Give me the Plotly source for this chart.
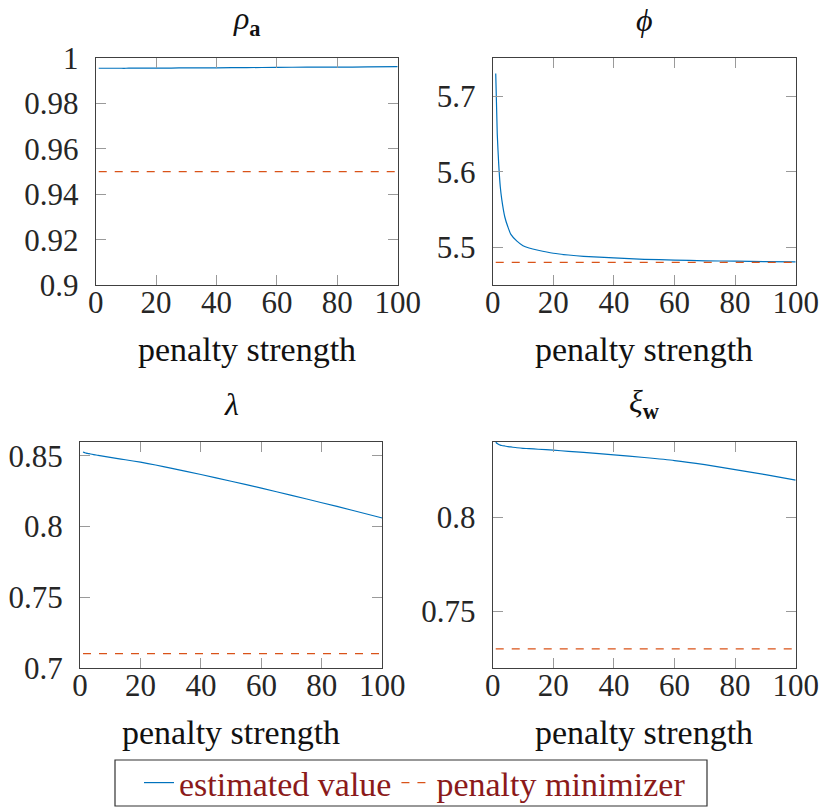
import plotly.graph_objects as go

# ---------------- data ----------------
penalty = [1, 1.5, 2, 2.5, 3, 4, 5, 6, 8, 10, 12, 15, 20, 25, 30, 40, 50, 60, 70, 80, 90, 100]

rho_a = [0.9956, 0.9956, 0.9956, 0.9956, 0.9956, 0.9956, 0.9956, 0.9956, 0.9956, 0.9956,
         0.9957, 0.9957, 0.9957, 0.9957, 0.9958, 0.9958, 0.9959, 0.9960, 0.9961, 0.9961,
         0.9962, 0.9963]
phi = [5.730, 5.650, 5.609, 5.580, 5.563, 5.540, 5.527, 5.517, 5.508, 5.502, 5.499, 5.496,
       5.492, 5.4897, 5.488, 5.486, 5.484, 5.483, 5.482, 5.4815, 5.481, 5.4807]
lam = [0.8527, 0.8523, 0.8519, 0.8517, 0.8515, 0.8511, 0.8507, 0.8503, 0.8496, 0.8489,
       0.8482, 0.8472, 0.8455, 0.8435, 0.8413, 0.8368, 0.8320, 0.8271, 0.8220, 0.8168,
       0.8115, 0.8060]
xi_w = [0.8397, 0.8390, 0.8385, 0.8382, 0.8380, 0.8377, 0.8374, 0.8372, 0.8368, 0.8365,
        0.8363, 0.8360, 0.8355, 0.8349, 0.8343, 0.8330, 0.8316, 0.8300, 0.8278, 0.8252,
        0.8225, 0.8196]

minimizer = {"rho": 0.95, "phi": 5.48, "lam": 0.71, "xi": 0.73}

titles = ["<i>ρ</i><sub><b>a</b></sub>", "<i>ϕ</i>", "<i>λ</i>", "<i>ξ</i><sub><b>w</b></sub>"]
xlabel = "penalty strength"
legend_names = ["estimated value", "penalty minimizer"]
xticks = [0, 20, 40, 60, 80, 100]

# ---------------- style ----------------
W, H = 820, 808
BLUE = "#0072BD"
ORANGE = "#D95319"
FONT = "Liberation Serif, DejaVu Serif, serif"
TXT = "#262626"

def px_x(p):
    return p / W

def px_y(p):
    return 1 - p / H

panels = [
    dict(series=rho_a, minv=minimizer["rho"], yr=[0.9, 1.0], dt=0.02,
         x=(95.7, 397.7), y=(58.3, 285.0)),
    dict(series=phi, minv=minimizer["phi"], yr=[5.45, 5.75], dt=0.1,
         x=(492.7, 795.7), y=(58.3, 285.0)),
    dict(series=lam, minv=minimizer["lam"], yr=[0.7, 0.86], dt=0.05,
         x=(80.0, 382.3), y=(441.7, 667.7)),
    dict(series=xi_w, minv=minimizer["xi"], yr=[0.72, 0.84], dt=0.05,
         x=(492.7, 795.7), y=(441.7, 667.7)),
]

fig = go.Figure()
annotations = []
for i, p in enumerate(panels):
    n = "" if i == 0 else str(i + 1)
    xa, ya = "x" + n, "y" + n
    fig.add_trace(go.Scatter(
        x=penalty, y=p["series"], mode="lines", xaxis=xa, yaxis=ya,
        line=dict(color=BLUE, width=1.2, shape="spline", smoothing=0.6),
        name=legend_names[0], showlegend=(i == 0), legendgroup="est"))
    fig.add_trace(go.Scatter(
        x=[penalty[0], penalty[-1]], y=[p["minv"], p["minv"]], mode="lines",
        xaxis=xa, yaxis=ya,
        line=dict(color=ORANGE, width=1.2, dash="8px,8px"), name=legend_names[1],
        showlegend=(i == 0), legendgroup="min"))
    axis_common = dict(
        showgrid=False, zeroline=False, showline=True, linecolor="#404040",
        linewidth=1.2, mirror="allticks", ticks="inside", ticklen=10,
        tickcolor="#9a9a9a", tickwidth=1.2,
        tickfont=dict(family=FONT, size=31, color=TXT))
    fig.update_layout(**{
        ("xaxis" + n): dict(
            domain=[px_x(p["x"][0]), px_x(p["x"][1])], range=[0, 100],
            tickvals=xticks, anchor=ya, ticklabelstandoff=-10, **axis_common),
        ("yaxis" + n): dict(
            domain=[px_y(p["y"][1]), px_y(p["y"][0])], range=p["yr"],
            dtick=p["dt"], tick0=0, anchor=xa, ticklabelstandoff=10,
            **axis_common),
    })
    cx = (p["x"][0] + p["x"][1]) / 2
    annotations.append(dict(
        text=titles[i], x=px_x(cx), y=px_y(p["y"][0] - 38), xref="paper", yref="paper",
        xanchor="center", yanchor="middle", showarrow=False,
        font=dict(family=FONT, size=32, color="#111111")))
    annotations.append(dict(
        text=xlabel, x=px_x(cx), y=px_y(p["y"][1] + 65), xref="paper", yref="paper",
        xanchor="center", yanchor="middle", showarrow=False,
        font=dict(family=FONT, size=34, color="#111111")))

fig.update_layout(
    width=W, height=H, margin=dict(l=0, r=0, t=0, b=0, autoexpand=False),
    paper_bgcolor="white", plot_bgcolor="white",
    annotations=annotations,
    shapes=[dict(type="rect", xref="paper", yref="paper",
                 x0=px_x(115), x1=px_x(707), y0=px_y(806), y1=px_y(760),
                 line=dict(color="#333333", width=1.2), fillcolor="rgba(0,0,0,0)",
                 layer="above")],
    legend=dict(orientation="h", x=px_x(415), y=px_y(783), xanchor="center",
                yanchor="middle", borderwidth=0,
                font=dict(family=FONT, size=34, color="#8B1A1A"),
                itemwidth=30, tracegroupgap=0, bgcolor="rgba(0,0,0,0)"),
    showlegend=True,
)

fig.write_html("out.html", config={"displayModeBar": False},
               post_script="document.body.style.margin='0px';document.body.style.overflow='hidden';")
